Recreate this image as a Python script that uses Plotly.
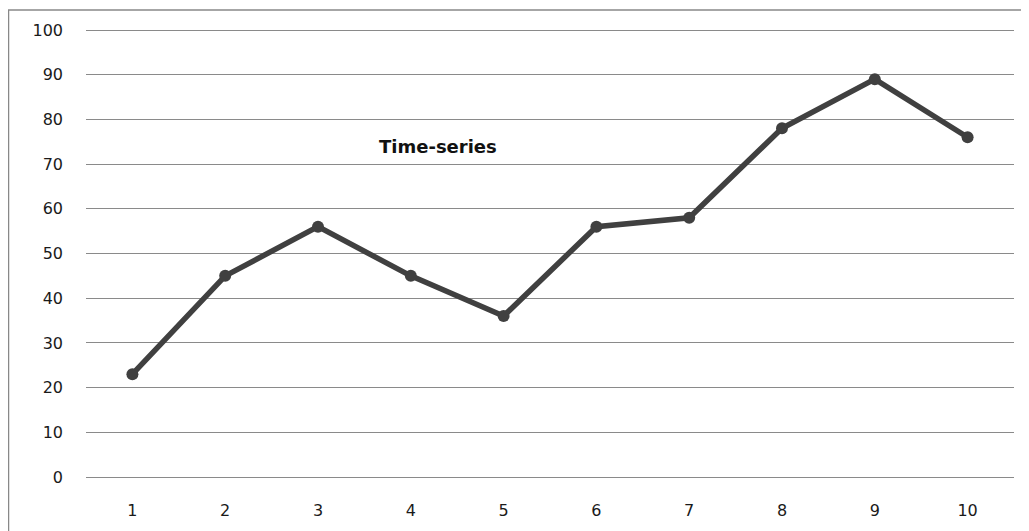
import plotly.graph_objects as go

categories = ["1", "2", "3", "4", "5", "6", "7", "8", "9", "10"]
values = [23, 45, 56, 45, 36, 56, 58, 78, 89, 76]
y_ticks = [0, 10, 20, 30, 40, 50, 60, 70, 80, 90, 100]
title_text = "Time-series"

# page has an 8px body margin, so figure origin is at page (8, 8)
OFF = 8
W, H = 1021, 523
PAD = 2  # px of padding so the 0 and 100 gridlines are drawn
L = 86 - OFF
T = 30 - OFF - PAD
R = OFF + W - 1014
B = OFF + H - 477 - PAD
pw = W - L - R
ph = H - T - B
ypad = 100 * PAD / (ph - 2 * PAD)

def px_x(p):
    return (p - OFF - L) / pw

def px_y(p):
    return (OFF + H - B - p) / ph

fig = go.Figure()
fig.add_trace(go.Scatter(
    x=categories, y=values, mode="lines+markers",
    line=dict(color="#404040", width=5.5),
    marker=dict(color="#404040", size=12),
    showlegend=False, cliponaxis=False,
))

fig.update_layout(
    width=W, height=H,
    margin=dict(l=L, r=R, t=T, b=B),
    paper_bgcolor="white", plot_bgcolor="white",
    font=dict(family="DejaVu Sans", size=16, color="#1a1a1a"),
    xaxis=dict(type="category", range=[-0.5, 9.5], showgrid=False, zeroline=False,
               showline=False, ticks="", ticklen=0, ticklabelstandoff=20,
               tickfont=dict(size=16)),
    yaxis=dict(range=[-ypad, 100 + ypad], tickvals=y_ticks, showgrid=True,
               gridcolor="#8a8a8a", gridwidth=1, zeroline=False, showline=False,
               ticks="", ticklabelstandoff=22, tickfont=dict(size=16)),
    annotations=[dict(text="<b>" + title_text + "</b>", xref="paper", yref="paper",
                      x=px_x(438), y=px_y(146), xanchor="center", yanchor="middle",
                      showarrow=False,
                      font=dict(family="DejaVu Sans", size=18, color="#111"))],
    shapes=[
        dict(type="line", xref="paper", yref="paper", x0=px_x(8), x1=px_x(1040),
             y0=px_y(10), y1=px_y(10), line=dict(color="#888", width=1.5)),
        dict(type="line", xref="paper", yref="paper", x0=px_x(8.5), x1=px_x(8.5),
             y0=px_y(10), y1=px_y(540), line=dict(color="#888", width=1.5)),
    ],
)

fig.write_html("out.html")
